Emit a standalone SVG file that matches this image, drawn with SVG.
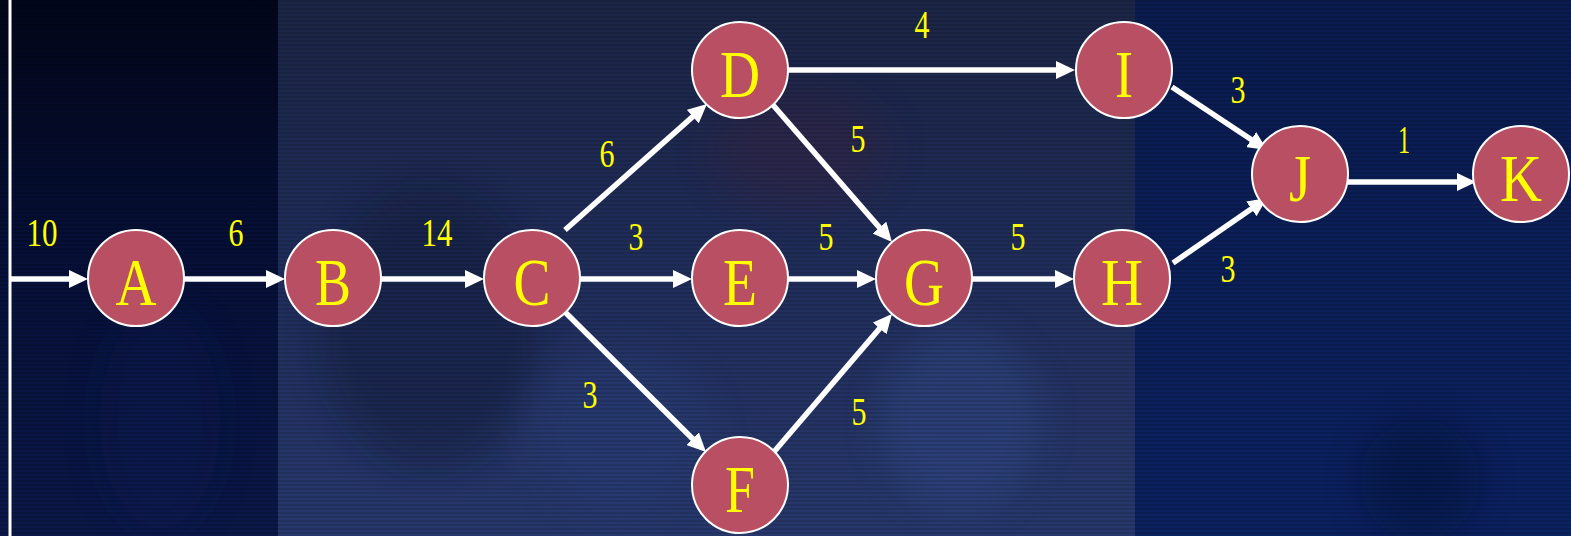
<svg xmlns="http://www.w3.org/2000/svg" width="1571" height="536" viewBox="0 0 1571 536">
<defs>
<linearGradient id="gl" x1="0" y1="0" x2="0" y2="1"><stop offset="0" stop-color="#02061a"/><stop offset="0.5" stop-color="#061038"/><stop offset="1" stop-color="#0b1848"/></linearGradient>
<linearGradient id="gm" x1="0" y1="0" x2="0" y2="1"><stop offset="0" stop-color="#1b2545"/><stop offset="0.45" stop-color="#1f2c58"/><stop offset="1" stop-color="#27386c"/></linearGradient>
<linearGradient id="gr" x1="0" y1="0" x2="0" y2="1"><stop offset="0" stop-color="#0a1b4e"/><stop offset="1" stop-color="#0b2260"/></linearGradient>
<pattern id="scan" width="4" height="4" patternUnits="userSpaceOnUse"><rect width="4" height="2" fill="#000" opacity="0.12"/></pattern>
<filter id="blur" x="-50%" y="-50%" width="200%" height="200%"><feGaussianBlur stdDeviation="18"/></filter>
<marker id="ah" viewBox="0 0 19 18" markerWidth="19" markerHeight="18" refX="9" refY="9" markerUnits="userSpaceOnUse" orient="auto"><path d="M0,0 L19,9 L0,18 z" fill="#ffffff"/></marker>
<style>
.edge{stroke:#ffffff;stroke-width:5.5;fill:none;marker-end:url(#ah)}
.nc{fill:#b94f62;stroke:#ffffff;stroke-width:2}
.nl{fill:#ffff00;font-family:"Liberation Serif","DejaVu Serif",serif;font-size:68px;text-anchor:middle}
.el{fill:#ffff00;font-family:"Liberation Serif","DejaVu Serif",serif;font-size:39px;text-anchor:middle}
</style>
</defs>
<g id="background">
<rect width="1571" height="536" fill="#0b1a4d"/>
<rect x="0" y="0" width="278" height="536" fill="url(#gl)"/>
<rect x="278" y="0" width="857" height="536" fill="url(#gm)"/>
<rect x="1135" y="0" width="436" height="536" fill="url(#gr)"/>
<g filter="url(#blur)" opacity="0.4">
<ellipse cx="430" cy="330" rx="110" ry="140" fill="#0c1530"/>
<ellipse cx="800" cy="150" rx="90" ry="60" fill="#3a2040"/>
<ellipse cx="960" cy="420" rx="80" ry="90" fill="#34508e"/>
<ellipse cx="620" cy="430" rx="90" ry="80" fill="#2b3f7c"/>
<ellipse cx="1420" cy="480" rx="60" ry="60" fill="#061030"/>
<ellipse cx="160" cy="420" rx="60" ry="110" fill="#0e1c55"/>
</g>
<rect width="1571" height="536" fill="url(#scan)"/>
<rect x="8.5" y="0" width="3" height="536" fill="#ffffff"/>
</g>
<g id="connectors">
<line class="edge" x1="11" y1="279" x2="78" y2="279"/>
<line class="edge" x1="184" y1="279" x2="275" y2="279"/>
<line class="edge" x1="381" y1="279" x2="474" y2="279"/>
<line class="edge" x1="580" y1="279" x2="682" y2="279"/>
<line class="edge" x1="787" y1="279" x2="866" y2="279"/>
<line class="edge" x1="972" y1="279" x2="1064" y2="279"/>
<line class="edge" x1="787" y1="70" x2="1065" y2="70"/>
<line class="edge" x1="1348" y1="182" x2="1466" y2="182"/>
<line class="edge" x1="565" y1="230" x2="699.5" y2="110.6"/>
<line class="edge" x1="773" y1="105" x2="885.4" y2="234.4"/>
<line class="edge" x1="565" y1="312" x2="698.9" y2="445"/>
<line class="edge" x1="773" y1="453" x2="885.5" y2="321.6"/>
<line class="edge" x1="1172" y1="87" x2="1258.7" y2="144.5"/>
<line class="edge" x1="1173" y1="263" x2="1258.8" y2="203.7"/>
</g>
<g id="edge-labels">
<text class="el" x="42" y="246" textLength="31" lengthAdjust="spacingAndGlyphs">10</text>
<text class="el" x="236" y="246" textLength="15" lengthAdjust="spacingAndGlyphs">6</text>
<text class="el" x="437" y="246" textLength="31" lengthAdjust="spacingAndGlyphs">14</text>
<text class="el" x="607" y="167" textLength="15" lengthAdjust="spacingAndGlyphs">6</text>
<text class="el" x="636" y="250" textLength="15" lengthAdjust="spacingAndGlyphs">3</text>
<text class="el" x="826" y="250" textLength="15" lengthAdjust="spacingAndGlyphs">5</text>
<text class="el" x="858" y="152" textLength="15" lengthAdjust="spacingAndGlyphs">5</text>
<text class="el" x="922" y="38" textLength="15" lengthAdjust="spacingAndGlyphs">4</text>
<text class="el" x="1018" y="250" textLength="15" lengthAdjust="spacingAndGlyphs">5</text>
<text class="el" x="1238" y="103" textLength="15" lengthAdjust="spacingAndGlyphs">3</text>
<text class="el" x="1228" y="282" textLength="15" lengthAdjust="spacingAndGlyphs">3</text>
<text class="el" x="1404" y="153" textLength="12" lengthAdjust="spacingAndGlyphs">1</text>
<text class="el" x="590" y="408" textLength="15" lengthAdjust="spacingAndGlyphs">3</text>
<text class="el" x="859" y="425" textLength="15" lengthAdjust="spacingAndGlyphs">5</text>
</g>
<g id="node-A"><circle class="nc" cx="136" cy="278" r="48"/><text class="nl" x="136" y="305" textLength="41" lengthAdjust="spacingAndGlyphs">A</text></g>
<g id="node-B"><circle class="nc" cx="333" cy="278" r="48"/><text class="nl" x="333" y="305" textLength="36" lengthAdjust="spacingAndGlyphs">B</text></g>
<g id="node-C"><circle class="nc" cx="532" cy="278" r="48"/><text class="nl" x="532" y="305" textLength="37" lengthAdjust="spacingAndGlyphs">C</text></g>
<g id="node-D"><circle class="nc" cx="740" cy="70" r="48"/><text class="nl" x="740" y="97" textLength="40" lengthAdjust="spacingAndGlyphs">D</text></g>
<g id="node-E"><circle class="nc" cx="740" cy="278" r="48"/><text class="nl" x="740" y="305" textLength="34" lengthAdjust="spacingAndGlyphs">E</text></g>
<g id="node-F"><circle class="nc" cx="740" cy="485" r="48"/><text class="nl" x="740" y="512" textLength="30" lengthAdjust="spacingAndGlyphs">F</text></g>
<g id="node-G"><circle class="nc" cx="924" cy="278" r="48"/><text class="nl" x="924" y="305" textLength="40" lengthAdjust="spacingAndGlyphs">G</text></g>
<g id="node-H"><circle class="nc" cx="1122" cy="278" r="48"/><text class="nl" x="1122" y="305" textLength="42" lengthAdjust="spacingAndGlyphs">H</text></g>
<g id="node-I"><circle class="nc" cx="1124" cy="70" r="48"/><text class="nl" x="1124" y="97" textLength="18" lengthAdjust="spacingAndGlyphs">I</text></g>
<g id="node-J"><circle class="nc" cx="1300" cy="174" r="48"/><text class="nl" x="1300" y="201" textLength="22" lengthAdjust="spacingAndGlyphs">J</text></g>
<g id="node-K"><circle class="nc" cx="1521" cy="174" r="48"/><text class="nl" x="1521" y="201" textLength="42" lengthAdjust="spacingAndGlyphs">K</text></g>
</svg>
